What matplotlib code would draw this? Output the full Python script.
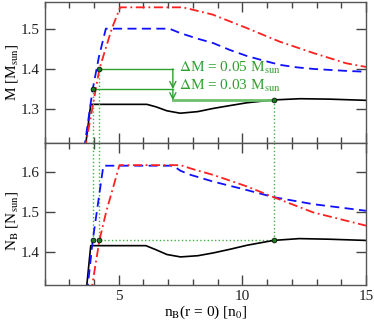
import matplotlib.pyplot as plt
from matplotlib.ticker import MultipleLocator

plt.rcParams['font.family'] = 'Liberation Serif'
plt.rcParams['mathtext.fontset'] = 'stix'
plt.rcParams['font.size'] = 11

# ---- top panel: gravitational mass M [M_sun]
m_black_x = [3.64, 3.87, 6.14, 6.5, 6.95, 7.49, 8.2, 8.83, 9.5, 10.19, 11.26, 12.34, 13.5, 15]
m_black_y = [1.20, 1.312, 1.312, 1.306, 1.296, 1.290, 1.294, 1.302, 1.309, 1.316, 1.323, 1.326, 1.325, 1.322]

m_blue_x = [3.60, 3.95, 4.2, 4.48, 7.05, 7.49, 8.2, 8.83, 9.5, 10.19, 10.9, 11.53, 12.2, 12.87, 14.23, 15]
m_blue_y = [1.20, 1.35, 1.43, 1.50, 1.50, 1.489, 1.475, 1.464, 1.447, 1.432, 1.420, 1.410, 1.404, 1.400, 1.395, 1.393]

m_red_x = [3.63, 3.68, 4.22, 4.72, 5.06, 7.6, 8.8, 10.2, 11.5, 12.9, 14.2, 15]
m_red_y = [1.20, 1.216, 1.40, 1.50, 1.553, 1.553, 1.535, 1.501, 1.468, 1.439, 1.414, 1.405]

# ---- bottom panel: baryon number N_B [N_sun]
n_black_x = [3.68, 3.87, 6.1, 6.5, 6.95, 7.5, 8.2, 8.83, 9.5, 10.19, 11.26, 12.3, 13.5, 15]
n_black_y = [1.30, 1.417, 1.417, 1.407, 1.395, 1.389, 1.392, 1.399, 1.408, 1.418, 1.430, 1.4345, 1.433, 1.430]

n_blue_x = [3.72, 3.95, 4.38, 7.2, 7.5, 7.9, 8.83, 10.19, 11.26, 12.87, 15]
n_blue_y = [1.30, 1.43, 1.6156, 1.6156, 1.603, 1.593, 1.576, 1.555, 1.5375, 1.520, 1.5037]

n_red_x = [3.88, 4.22, 4.49, 5.03, 7.5, 8.0, 8.83, 10.19, 11.26, 12.87, 15]
n_red_y = [1.30, 1.43, 1.50, 1.617, 1.617, 1.607, 1.5926, 1.564, 1.5375, 1.4995, 1.4667]

# marked points
dot_x = [3.95, 4.22, 11.26]
dot_m = [1.35, 1.40, 1.322]
dot_n = [1.43, 1.43, 1.43]
arrow_x = 7.19
dm_labels = [r'$\Delta$M = 0.05 M$_{\mathrm{sun}}$', r'$\Delta$M = 0.03 M$_{\mathrm{sun}}$']

green = '#2ea02e'
light_green = '#6cc06c'
dot_green = '#1e7a1e'

fig = plt.figure(figsize=(3.74, 3.21), dpi=100)
ax1 = fig.add_axes([0.119, 0.5545, 0.8596, 0.4402])
ax2 = fig.add_axes([0.119, 0.1131, 0.8596, 0.4414], sharex=ax1)

for ax in (ax1, ax2):
    ax.set_xlim(2, 15)
    ax.xaxis.set_major_locator(MultipleLocator(5))
    ax.xaxis.set_minor_locator(MultipleLocator(1))
    ax.yaxis.set_major_locator(MultipleLocator(0.1))
    ax.tick_params(which='both', direction='in', top=True, right=True, colors='#444444', labelcolor='#222222')
    ax.tick_params(which='major', length=7, width=1)
    ax.tick_params(which='minor', length=4, width=1)
    for s in ax.spines.values():
        s.set_color('#555555')
        s.set_linewidth(1.0)

ax1.set_ylim(1.216, 1.567)
ax2.set_ylim(1.32, 1.672)
ax1.tick_params(labelbottom=False)

# top panel curves
ax1.plot(m_black_x, m_black_y, color='black', lw=1.2)
ax1.plot(m_blue_x, m_blue_y, color='#1010ff', lw=1.3, ls=(0, (5, 3)))
ax1.plot(m_red_x, m_red_y, color='#ff2020', lw=1.3, ls=(0, (5, 2, 1, 2)))

# annotation in top panel
ax1.plot([dot_x[1], arrow_x], [dot_m[1], dot_m[1]], color=green, lw=1)
ax1.plot([dot_x[0], arrow_x], [dot_m[0], dot_m[0]], color=green, lw=1)
ax1.plot([arrow_x, dot_x[2]], [dot_m[2], dot_m[2]], color=light_green, lw=2)
ax1.annotate('', xy=(arrow_x, dot_m[0]), xytext=(arrow_x, dot_m[1]),
             arrowprops=dict(arrowstyle='->', color=green, lw=1, shrinkA=0, shrinkB=0))
ax1.annotate('', xy=(arrow_x, dot_m[2]), xytext=(arrow_x, dot_m[0]),
             arrowprops=dict(arrowstyle='->', color=green, lw=1, shrinkA=0, shrinkB=0))
ax1.text(7.45, 1.393, dm_labels[0], color=green, fontsize=11, va='baseline')
ax1.text(7.45, 1.347, dm_labels[1], color=green, fontsize=11, va='baseline')

# dotted guides
for x, m in zip(dot_x, dot_m):
    ax1.plot([x, x], [1.0, m], color='#40b040', lw=1, ls=':')
for x, n in zip(dot_x, dot_n):
    ax2.plot([x, x], [n, 2.0], color='#40b040', lw=1, ls=':')
ax2.plot([dot_x[0], dot_x[2]], [dot_n[0], dot_n[2]], color='#40b040', lw=1, ls=':')

ax1.plot(dot_x, dot_m, 'o', ms=3.5, color=dot_green, mec='black', mew=0.5, zorder=5)

# bottom panel curves
ax2.plot(n_black_x, n_black_y, color='black', lw=1.2)
ax2.plot(n_blue_x, n_blue_y, color='#1010ff', lw=1.3, ls=(0, (5, 3)))
ax2.plot(n_red_x, n_red_y, color='#ff2020', lw=1.3, ls=(0, (5, 2, 1, 2)))
ax2.plot(dot_x, dot_n, 'o', ms=3.5, color=dot_green, mec='black', mew=0.5, zorder=5)

ax1.set_ylabel(r'M [M$_{\mathrm{sun}}$]')
ax2.set_ylabel(r'N$_{\mathrm{B}}$ [N$_{\mathrm{sun}}$]')
ax1.yaxis.set_label_coords(-0.075, 0.5)
ax2.yaxis.set_label_coords(-0.075, 0.45)
ax2.set_xlabel(r'n$_{\mathrm{B}}$(r = 0) [n$_0$]', labelpad=1)

fig.savefig('out.png', dpi=100)
